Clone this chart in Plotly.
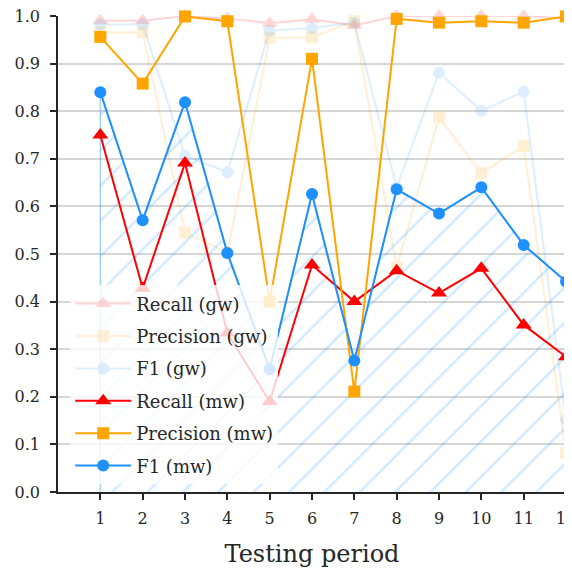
import plotly.graph_objects as go

periods = [1, 2, 3, 4, 5, 6, 7, 8, 9, 10, 11, 12]

recall_gw = [0.99, 0.99, 1.0, 0.995, 0.985, 0.993, 0.98, 1.0, 1.0, 1.0, 1.0, 0.995]
precision_gw = [0.965, 0.966, 0.545, 0.503, 0.954, 0.955, 0.989, 0.472, 0.787, 0.670, 0.727, 0.082]
f1_gw = [0.982, 0.982, 0.707, 0.672, 0.969, 0.975, 0.986, 0.640, 0.881, 0.801, 0.841, 0.151]

recall_mw = [0.750, 0.428, 0.691, 0.334, 0.190, 0.477, 0.400, 0.465, 0.418, 0.470, 0.351, 0.284]
precision_mw = [0.956, 0.858, 0.999, 0.989, 0.400, 0.910, 0.211, 0.994, 0.986, 0.989, 0.986, 0.999]
f1_mw = [0.840, 0.571, 0.819, 0.502, 0.258, 0.626, 0.276, 0.636, 0.585, 0.640, 0.519, 0.442]

y_ticks = [0.0, 0.1, 0.2, 0.3, 0.4, 0.5, 0.6, 0.7, 0.8, 0.9, 1.0]

RED = "#FF0000"
ORANGE = "#FFA500"
BLUE = "#1E90FF"
HATCH = "rgba(30,144,255,0.40)"
FONT = "DejaVu Serif"

fig = go.Figure()

def add_series(y, name, color, symbol, size, opacity, group):
    fig.add_trace(go.Scatter(
        x=periods, y=y, name=name, mode="lines+markers",
        line=dict(color=color, width=2),
        marker=dict(symbol=symbol, size=size, color=color, line=dict(width=0)),
        opacity=opacity, cliponaxis=False, legendgroup=group,
    ))

add_series(recall_gw, "Recall (gw)", RED, "triangle-up", 14, 0.16, "g1")
add_series(precision_gw, "Precision (gw)", ORANGE, "square", 12, 0.16, "g2")
add_series(f1_gw, "F1 (gw)", BLUE, "circle", 12, 0.14, "g3")

# hatched area under F1 (mw)
fx = [periods[0]] + periods + [periods[-1]]
fy = [0] + f1_mw + [0]
fig.add_trace(go.Scatter(
    x=fx, y=fy, mode="lines", fill="toself",
    line=dict(color=HATCH, width=1.5),
    fillcolor="rgba(0,0,0,0)",
    fillpattern=dict(shape="/", fgcolor=HATCH, bgcolor="rgba(0,0,0,0)",
                     size=25, solidity=0.1),
    showlegend=False, hoverinfo="skip", cliponaxis=False,
))

add_series(recall_mw, "Recall (mw)", RED, "triangle-up", 14, 1.0, "m1")
add_series(precision_mw, "Precision (mw)", ORANGE, "square", 12, 1.0, "m2")
add_series(f1_mw, "F1 (mw)", BLUE, "circle", 12, 1.0, "m3")

fig.update_layout(
    width=564, height=566,
    margin=dict(l=50, r=6, t=8, b=82),
    paper_bgcolor="white", plot_bgcolor="white",
    font=dict(family=FONT, size=16, color="#262626"),
    legend=dict(
        x=0.024, y=0.434, xanchor="left", yanchor="top",
        bgcolor="rgba(255,255,255,0.8)", borderwidth=0,
        font=dict(family=FONT, size=18, color="#262626"),
        traceorder="grouped", tracegroupgap=6,
        itemwidth=56,
    ),
    xaxis=dict(
        range=[0, 12], tickmode="array", tickvals=periods,
        ticktext=[str(p) for p in periods],
        showgrid=False, zeroline=False, automargin=False,
        showline=True, linecolor="#262626", linewidth=1.5,
        ticks="outside", ticklen=6, tickwidth=1.5, tickcolor="#262626",
        ticklabelstandoff=5, ticklabeloverflow="allow",
        tickfont=dict(family=FONT, size=16, color="#262626"),
        title=dict(text="Testing period", font=dict(family=FONT, size=24, color="#262626"),
                   standoff=18),
    ),
    yaxis=dict(
        range=[0, 1], tickmode="array", tickvals=y_ticks,
        ticktext=[f"{v:.1f}" for v in y_ticks],
        showgrid=True, gridcolor="#d6d6d6", gridwidth=1.5, zeroline=False,
        automargin=False,
        showline=True, linecolor="#262626", linewidth=1.5,
        ticks="outside", ticklen=6, tickwidth=1.5, tickcolor="#262626",
        ticklabelstandoff=7, ticklabeloverflow="allow",
        tickfont=dict(family=FONT, size=16, color="#262626"),
    ),
)

fig.write_html("out.html")
